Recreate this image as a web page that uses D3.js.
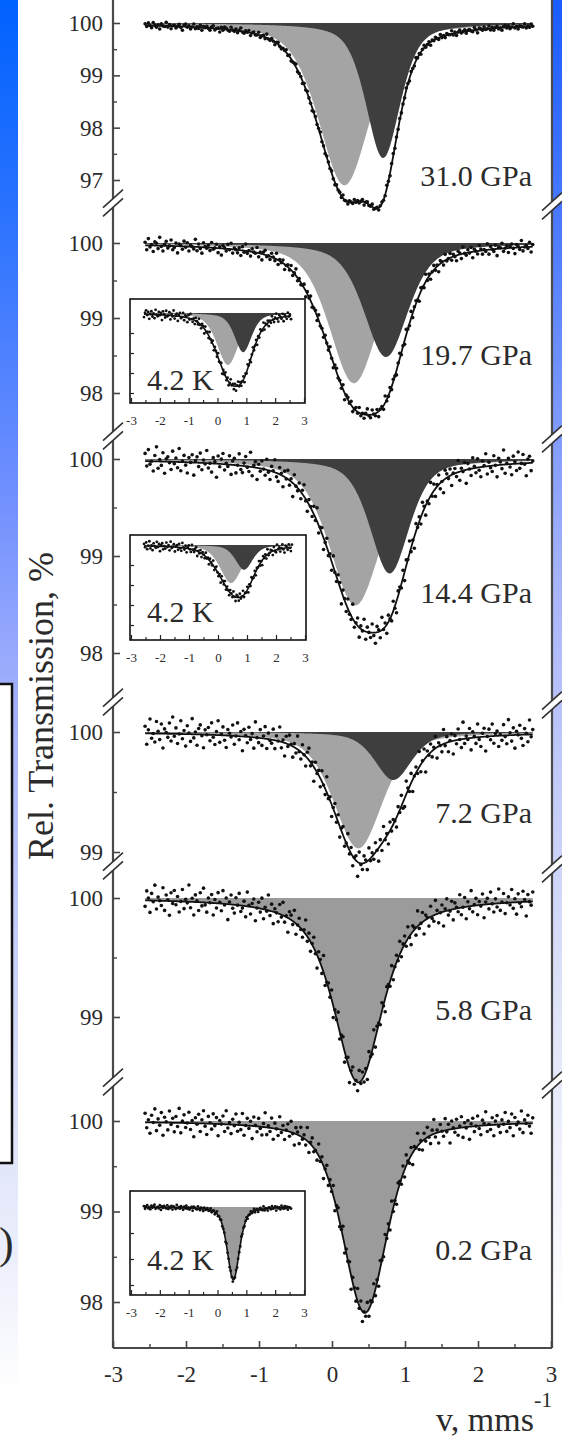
<!DOCTYPE html>
<html><head><meta charset="utf-8">
<script src="https://cdn.jsdelivr.net/npm/d3@7/dist/d3.min.js"></script>
<style>
html,body{margin:0;padding:0;background:#fff;}
svg{display:block;}
text{font-family:"Liberation Serif","Times New Roman",serif;fill:#2b2b2b;}
</style></head><body>
<svg id="chart" width="562" height="1440"></svg>
<script>
// ================= DATA =================
const velocityTicks = [-3,-2,-1,0,1,2,3];
const velocityMinor = [-2.5,-1.5,-0.5,0.5,1.5,2.5];
const velocityRange = [-2.56, 2.75];
const insetVelocityRange = [-2.55, 2.55];
const pressureLabels = ["31.0 GPa","19.7 GPa","14.4 GPa","7.2 GPa","5.8 GPa","0.2 GPa"];
const insetLabel = "4.2 K";

const yTicks310 = [100,99,98,97];
const yTicks197 = [100,99,98];
const yTicks144 = [100,99,98];
const yTicks72  = [100,99];
const yTicks58  = [100,99];
const yTicks02  = [100,99,98];

// line components: [centre (mm/s), depth (%), HWHM (mm/s), Lorentzian fraction]
const fit310 = [[0.17,3.10,0.44,0.5],[0.70,2.20,0.26,0.5]];
const sub310 = [[0.17,3.10,0.42,0.5],[0.70,2.58,0.28,0.5]];
const fit197 = [[0.25,1.75,0.46,0.5],[0.75,1.30,0.36,0.5]];
const sub197 = [[0.30,1.87,0.40,0.5],[0.74,1.52,0.36,0.5]];
const fit144 = [[0.30,1.35,0.45,0.5],[0.80,1.05,0.36,0.5]];
const sub144 = [[0.32,1.51,0.42,0.5],[0.79,1.18,0.32,0.5]];
const fit72  = [[0.36,1.00,0.42,0.5],[0.85,0.35,0.32,0.5]];
const sub72  = [[0.36,0.97,0.40,0.5],[0.84,0.40,0.30,0.5]];
const fit58  = [[0.36,1.55,0.40,0.7]];
const sub58  = [[0.36,1.55,0.40,0.7]];
const fit02  = [[0.45,2.12,0.36,0.5]];
const sub02  = [[0.45,2.12,0.36,0.5]];

// insets (4.2 K)
const fitA = [[0.36,1.30,0.55,0.5],[0.90,1.00,0.45,0.5]];
const subA = [[0.36,1.30,0.45,0.5],[0.89,0.98,0.35,0.5]];
const fitB = [[0.45,0.95,0.60,0.5],[0.95,0.62,0.45,0.5]];
const subB = [[0.45,0.95,0.45,0.5],[0.90,0.62,0.35,0.5]];
const fitC = [[0.55,1.40,0.25,0.5]];
const subC = [[0.55,1.40,0.25,0.5]];
const insetYTicksA = [99.5,99,98.5,98];
const insetYTicksB = [99.5,99,98.5,98];
const insetYTicksC = [99.5,99,98.5];

// measured points: deviation from fit, in 0.01 %
const res310 = [3,-2,5,0,-4,6,1,-3,2,-6,4,0,-1,7,-2,3,-5,1,2,-3,
0,4,-2,-7,3,5,-1,2,-4,0,6,-3,1,-2,4,-5,2,0,3,-1,
-4,2,5,-3,0,1,-6,3,-2,4,2,-1,-3,5,0,-2,3,-4,1,6,
-1,-3,2,0,4,-5,1,3,-2,-1,5,-4,0,2,-3,7,-1,-2,3,0,
-5,2,4,-1,-3,1,0,5,-2,3,-4,-1,2,6,-3,0,1,-5,3,-2,
4,0,-1,-6,2,3,-2,1,5,-3,0,-4,2,1,-1,4,-2,-5,3,0,
2,-3,6,-1,0,-4,3,1,-2,5,-1,2,-3,0,4,-6,1,3,-2,-1,
5,-3,0,2,-4,1,3,-1,-2,6,0,-5,2,4,-3,1,-1,3,-2,0,
-2,4,1,-5,3,0,-3,6,-1,2,-4,1,5,-2,0,3,-6,2,-1,4,
0,-3,5,-2,1,-4,3,0,-1,6,-3,2,-5,1,4,-2,0,3,-4,1,
2,-1,-3,5,0,-6,3,1,-2,4,-1,0,5,-3,2,-4,1,3,-2,0,
-5,2,4,-1,3,-3,0,6,-2,1,-4,2,0,-1,5,-3,1,-2,4,0];
const res197 = [4,-6,9,-2,1,-8,5,3,-4,11,-1,-7,2,6,-3,0,8,-5,-2,4,
-9,3,1,-4,7,-1,5,-6,2,0,-3,10,-5,4,-2,-8,6,1,-1,3,
-4,7,-2,0,5,-6,2,-9,4,1,-3,6,-1,8,-5,2,0,-4,3,-7,
5,-2,9,-3,1,-6,4,0,-1,7,-5,2,-8,3,6,-2,0,-4,5,1,
-3,8,-6,2,-1,4,-7,0,3,-2,6,-5,1,9,-4,2,-3,0,5,-8,
3,-1,6,-4,0,2,-6,7,-2,1,-5,4,0,-3,8,-1,-7,3,5,-2,
1,-4,6,-9,2,3,-1,5,-6,0,4,-2,7,-3,1,-5,2,8,-1,-4,
6,0,-3,4,-7,1,2,-5,9,-2,-1,5,-4,3,0,-6,2,7,-3,1,
-5,7,0,-3,9,-6,2,4,-1,-8,5,1,-4,10,-2,3,-7,0,6,-3,
2,-9,4,1,-5,8,-2,0,6,-4,3,-1,-7,5,2,-6,9,0,-3,4,
-1,6,-8,3,0,-4,7,2,-5,1,-2,8,-6,4,0,-3,5,-9,2,1,
7,-4,0,3,-6,2,5,-1,-8,4,1,-3,9,-5,0,2,-2,6,-7,3];
const res144 = [8,-5,12,-3,0,-10,6,15,-7,2,-4,9,-12,3,5,-1,-8,11,-2,4,
-6,14,-9,1,7,-3,-11,5,0,8,-13,2,6,-4,10,-7,3,-1,13,-5,
0,-9,6,2,-14,8,-3,5,11,-6,1,-2,9,-10,4,7,-8,0,12,-4,
-7,3,10,-1,-5,15,-9,2,6,-12,4,-3,8,0,-6,11,-2,-9,5,1,
13,-4,-8,7,2,-11,6,-1,9,-5,3,-14,10,0,-3,7,-7,4,12,-2,
-10,5,1,-6,8,-3,14,-8,2,6,-12,0,9,-4,3,-9,11,-1,-5,7,
4,-13,6,2,-7,10,-2,-4,15,-6,1,8,-10,3,-1,12,-8,5,0,-5,
9,-3,-11,6,2,-7,13,-1,4,-9,7,0,-6,10,-2,-12,5,3,-4,8,
-9,6,0,13,-4,2,-12,8,-1,5,-7,11,3,-10,1,-5,14,-3,7,-8,
2,10,-6,0,-13,9,4,-2,7,-11,1,5,-4,12,-9,3,-1,8,-14,6,
0,-7,11,2,-5,9,-3,-10,6,1,13,-8,4,-2,-6,10,0,-12,7,3,
-4,15,-9,1,6,-3,-11,8,2,-7,12,-5,0,9,-1,-13,4,7,-8,2];
const res72 = [6,-9,3,12,-4,0,-7,10,2,-5,8,-12,4,1,-3,9,-6,14,-2,5,
-8,0,11,-4,3,-10,7,1,-6,13,-3,2,-9,5,8,-1,-11,4,0,6,
-5,10,-2,-8,3,12,-6,1,7,-4,-10,5,2,-1,9,-7,0,11,-3,4,
-12,6,1,-5,8,-2,3,-9,13,0,-4,7,-6,2,10,-8,5,-1,-3,9,
-7,4,0,12,-5,2,-11,6,-2,8,1,-9,3,-4,11,-1,-6,7,0,-8,
5,10,-3,2,-12,6,-1,4,-7,9,0,-5,13,-2,3,-10,1,8,-4,6,
-9,2,7,-6,0,11,-3,5,-8,1,4,-12,9,-1,-5,6,2,-7,10,-2,
3,-4,8,0,-11,5,-6,12,-1,2,-9,7,-3,4,0,-8,6,-2,9,-5,
-7,11,2,-4,8,-10,0,5,-3,13,-6,1,9,-12,4,-1,7,-5,2,10,
-9,3,0,-6,12,-2,5,-8,1,6,-11,4,-3,9,0,-7,14,-4,2,-1,
8,-10,5,1,-5,11,-2,-8,3,7,-12,0,6,-3,10,-6,2,4,-9,1,
-4,9,-1,-7,13,2,-5,6,-11,3,0,8,-3,-9,5,1,-6,12,-2,4];
const res58 = [-5,8,2,-10,6,-1,13,-7,3,0,-4,11,-8,5,1,-12,7,-2,9,-3,
4,-9,0,10,-6,2,-1,14,-5,3,-11,6,1,-7,8,-3,12,-2,-8,4,
0,7,-10,3,-4,9,1,-6,11,-1,5,-13,2,8,-3,-7,6,0,10,-5,
-2,4,-9,12,1,-6,3,7,-11,0,5,-3,9,-8,2,-1,13,-4,6,-10,
3,0,-7,8,-2,11,-5,1,-12,6,4,-3,10,-9,0,7,-1,-6,2,12,
-4,5,-8,1,9,-2,-11,6,3,-5,14,-7,0,4,-3,8,-10,2,-1,11,
-6,3,7,-9,0,5,-12,2,8,-4,1,-7,10,-2,6,-5,3,-10,9,0,
-3,12,-8,4,1,-6,7,-1,-11,5,2,-4,9,-7,0,6,-2,11,-5,3,
7,-4,10,-1,-9,5,2,-6,13,-3,0,8,-11,4,1,-7,9,-2,-5,12,
3,-8,0,6,-12,2,10,-4,-1,7,-9,5,1,-3,11,-6,0,8,-10,4,
-2,13,-5,1,6,-8,3,-1,9,-11,2,5,-4,10,0,-7,4,-3,12,-6,
1,8,-9,0,5,-2,11,-5,3,-10,7,-1,-4,9,2,-12,6,0,-3,8];
const res02 = [10,-6,3,-12,8,0,15,-9,4,-3,11,-14,6,1,-8,13,-2,5,-10,7,
-4,16,-11,2,9,-5,0,12,-7,3,-15,6,-1,10,-9,4,14,-3,-12,8,
1,-6,11,-2,7,-13,4,0,9,-8,15,-4,2,-10,6,-1,12,-7,3,-5,
13,-11,0,8,-3,5,-14,10,1,-6,9,-2,-9,4,16,-8,2,-4,11,-12,
6,0,-7,14,-3,5,-10,1,8,-5,12,-1,-13,7,3,-9,10,-2,4,-6,
15,-11,2,9,-4,0,-8,13,-3,6,-14,1,10,-7,5,-2,11,-10,3,8,
-5,0,12,-9,4,-1,7,-15,6,2,-6,14,-3,9,-11,1,-4,10,-8,5,
-1,13,-7,3,-12,8,0,-5,11,-2,6,-9,15,-4,1,-10,7,3,-6,9,
-8,12,1,-5,9,-13,4,0,14,-6,2,-10,7,-3,11,-1,-9,5,16,-4,
3,-12,8,0,-6,13,-2,6,-15,9,1,-4,10,-8,2,12,-11,5,-1,7,
-14,3,9,-6,0,11,-3,-10,6,2,15,-7,1,-5,8,-12,4,10,-2,-9,
5,0,13,-8,3,-4,11,-13,7,-1,2,-6,14,-10,4,0,9,-3,-11,6];
const resA = [-7,4,10,-2,6,-11,1,8,-5,3,-9,12,0,-4,7,-1,5,-13,9,2,
-6,11,-3,0,8,-10,4,-2,13,-7,1,6,-12,3,9,-4,-1,10,-8,5,
2,-11,7,-3,12,0,-6,4,-9,8,1,-5,11,-2,-8,6,3,-12,9,-1,
4,-7,13,0,-3,8,-10,5,2,-6,10,-4,1,7,-13,3,-2,9,-5,6,
-9,0,12,-1,4,-8,6,-11,2,10,-3,5,-7,1,8,-12,3,-4,11,0,
5,-9,2,11,-4,0,7,-12,3,-6,9,1,-3,13,-8,4,-1,6,-10,2,
-5,10,0,-7,3,12,-2,-9,6,1,-4,8,-11,5,0,-6,9,-1,3,-8];
const resB = [5,-3,9,-8,1,12,-6,2,-10,7,0,-4,11,-2,6,-12,3,8,-7,1,
-5,10,-1,4,-9,13,-3,0,7,-11,2,5,-6,9,-2,-8,12,1,-4,6,
-10,3,8,-1,-7,11,0,-5,4,9,-12,2,-3,7,-9,5,1,-6,10,-2,
3,-11,6,0,-4,12,-8,2,9,-1,-6,4,-13,8,1,-3,10,-7,5,0,
-9,7,2,-5,11,-1,-10,6,3,-8,9,-4,0,12,-6,1,-2,8,-11,4,
-6,10,1,-3,8,-9,4,0,11,-5,2,-12,7,-1,5,-8,13,-4,0,6,
3,-10,9,-2,-6,12,0,4,-7,1,10,-3,-11,6,2,-5,8,-1,-9,7];
const resC = [2,-3,1,4,-2,0,-4,3,-1,2,5,-3,0,1,-2,4,-5,2,-1,3,
0,-2,4,-3,1,-1,3,-4,2,0,-3,5,-1,1,-2,3,0,-4,2,-1,
4,-2,1,-3,0,2,-5,3,1,-1,-2,4,0,-3,2,1,-4,3,-1,0,
3,-2,-1,4,-3,1,2,-4,0,5,-2,1,-1,3,-3,0,2,-5,4,-1,
1,-2,3,0,-4,2,-1,4,-3,1,0,-2,5,-1,2,-3,1,3,-4,0,
-1,3,-2,0,4,-3,1,2,-4,0,3,-1,-2,5,-3,1,0,-4,2,1,
-2,4,-1,0,3,-5,2,-1,1,-3,4,0,-2,3,-1,2,-4,1,0,-2];

// ================= LAYOUT =================
const plotLeft = 113, plotRight = 552, plotBottom = 1348;
const panels = [
  {label: pressureLabels[0], ticks: yTicks310, fit: fit310, sub: sub310, res: res310, top: 23,   bottom: 180,  labelY: 186},
  {label: pressureLabels[1], ticks: yTicks197, fit: fit197, sub: sub197, res: res197, top: 243,  bottom: 393,  labelY: 365},
  {label: pressureLabels[2], ticks: yTicks144, fit: fit144, sub: sub144, res: res144, top: 459,  bottom: 653,  labelY: 603},
  {label: pressureLabels[3], ticks: yTicks72,  fit: fit72,  sub: sub72,  res: res72,  top: 732,  bottom: 852,  labelY: 823},
  {label: pressureLabels[4], ticks: yTicks58,  fit: fit58,  sub: sub58,  res: res58,  top: 898,  bottom: 1017, labelY: 1020},
  {label: pressureLabels[5], ticks: yTicks02,  fit: fit02,  sub: sub02,  res: res02,  top: 1121, bottom: 1302, labelY: 1260}
];
const insets = [
  {fit: fitA, sub: subA, res: resA, yTicks: insetYTicksA, x0:130, y0:299, x1:305, y1:403, base:313, pxPct:40, kY:390},
  {fit: fitB, sub: subB, res: resB, yTicks: insetYTicksB, x0:130, y0:535, x1:306, y1:640, base:545, pxPct:40, kY:622},
  {fit: fitC, sub: subC, res: resC, yTicks: insetYTicksC, x0:130, y0:1191, x1:305, y1:1295, base:1207, pxPct:52, kY:1270}
];
const breaks = [203, 436, 702, 866, 1082];
const LIGHT = "#a4a4a4", DARK = "#3e3e3e", SINGLE = "#9b9b9b", INK = "#111";
const SERIF = "'Liberation Serif','Times New Roman',serif";

// ================= HELPERS =================
function pv(v, p){ const u=(v-p[0])/p[2]; return p[1]*(p[3]/(1+u*u) + (1-p[3])*Math.exp(-Math.LN2*u*u)); }
function absorb(v, comps){ return d3.sum(comps, p => pv(v, p)); }
function grid(range, n){ return d3.range(n+1).map(i => range[0] + (range[1]-range[0])*i/n); }

const svg = d3.select("#chart");
const defs = svg.append("defs");
function grad(id, stops){
  const g = defs.append("linearGradient").attr("id", id).attr("x1",0).attr("y1",0).attr("x2",0).attr("y2",1);
  stops.forEach(s => g.append("stop").attr("offset", s[0]).attr("stop-color", s[1]));
}
grad("slideL", [[0,"#0062ff"],[0.15,"#2a72ff"],[0.35,"#6f8fff"],[0.5,"#a2b0fc"],[0.7,"#ccd4f8"],[0.9,"#eceffb"],[1,"#ffffff"]]);
grad("slideR", [[0,"#1a5cff"],[0.2,"#5580ff"],[0.45,"#aab6fb"],[0.75,"#dde2f8"],[1,"#ffffff"]]);

// slide background remnants
svg.append("rect").attr("x",0).attr("y",0).attr("width",18).attr("height",1395).attr("fill","url(#slideL)");
svg.append("rect").attr("x",553).attr("y",0).attr("width",9).attr("height",1320).attr("fill","url(#slideR)");
svg.append("rect").attr("x",-3).attr("y",684).attr("width",15).attr("height",479)
  .attr("fill","#fff").attr("stroke","#111").attr("stroke-width",2.5);
svg.append("text").attr("x",-1).attr("y",1258).style("font-size","44px").text(")");

const x = d3.scaleLinear().domain([-3,3]).range([113,551]);
const curveV = grid(velocityRange, 500);
const plot = svg.append("g");

panels.forEach(p => {
  const y = d3.scaleLinear().domain([p.ticks[0], p.ticks[p.ticks.length-1]]).range([p.top, p.bottom]);
  const g = plot.append("g");
  const single = p.sub.length === 1;
  p.sub.forEach((c, i) => {
    const area = d3.area().x(v => x(v)).y0(y(100)).y1(v => y(100 - pv(v, c)));
    g.append("path").datum(curveV).attr("d", area)
      .attr("fill", single ? SINGLE : (i === 0 ? LIGHT : DARK));
  });
  const line = d3.line().x(v => x(v)).y(v => y(100 - absorb(v, p.fit)));
  g.append("path").datum(curveV).attr("d", line).attr("fill","none").attr("stroke", INK).attr("stroke-width",1.8);
  const n = p.res.length;
  const pts = p.res.map((r, i) => {
    const v = velocityRange[0] + (velocityRange[1]-velocityRange[0])*i/(n-1);
    return {v, t: 100 - absorb(v, p.fit) + r/100};
  });
  g.selectAll("circle").data(pts).join("circle")
    .attr("cx", d => x(d.v)).attr("cy", d => y(d.t)).attr("r",1.8).attr("fill", INK);
  g.append("text").attr("x",532).attr("y",p.labelY).attr("text-anchor","end")
    .style("font-size","30px").text(p.label);

  const ya = plot.append("g").attr("transform",`translate(${plotLeft},0)`)
    .call(d3.axisLeft(y).tickValues(p.ticks).tickSizeInner(-7).tickSizeOuter(0).tickPadding(10).tickFormat(d => String(d)));
  ya.select(".domain").remove();
  ya.selectAll("text").style("font-size","23px").style("font-family",SERIF).attr("fill","#2b2b2b");
  ya.selectAll("line").attr("stroke","#444").attr("stroke-width",1.6);
  const minors = d3.pairs(p.ticks).map(([a,b]) => (a+b)/2);
  const ym = plot.append("g").attr("transform",`translate(${plotLeft},0)`)
    .call(d3.axisLeft(y).tickValues(minors).tickSizeInner(-4).tickSizeOuter(0).tickFormat(""));
  ym.select(".domain").remove();
  ym.selectAll("line").attr("stroke","#444").attr("stroke-width",1.4);
});

// frame
const frame = svg.append("g").attr("stroke","#4a4a4a").attr("stroke-width",2.2).attr("fill","none");
frame.append("line").attr("x1",plotLeft).attr("y1",0).attr("x2",plotLeft).attr("y2",plotBottom);
frame.append("line").attr("x1",plotRight).attr("y1",0).attr("x2",plotRight).attr("y2",plotBottom);
frame.append("line").attr("x1",plotLeft).attr("y1",plotBottom).attr("x2",plotRight).attr("y2",plotBottom);

// bottom axis
const xa = svg.append("g").attr("transform",`translate(0,${plotBottom})`)
  .call(d3.axisBottom(x).tickValues(velocityTicks).tickSizeInner(-7).tickSizeOuter(0).tickPadding(18).tickFormat(d => String(d)));
xa.select(".domain").remove();
xa.selectAll("text").style("font-size","23px").style("font-family",SERIF).attr("fill","#2b2b2b");
xa.selectAll("line").attr("stroke","#444").attr("stroke-width",1.6);
const xm = svg.append("g").attr("transform",`translate(0,${plotBottom})`)
  .call(d3.axisBottom(x).tickValues(velocityMinor).tickSizeInner(-4).tickSizeOuter(0).tickFormat(""));
xm.select(".domain").remove();
xm.selectAll("line").attr("stroke","#444").attr("stroke-width",1.4);

// axis breaks
function breakMark(cx, cy){
  const g = svg.append("g");
  g.append("polygon").attr("points", [[cx-10,cy+13],[cx+10,cy-5],[cx+10,cy-13],[cx-10,cy+5]].map(q=>q.join(",")).join(" "))
    .attr("fill","#fff");
  [-4.3, 4.3].forEach(d => g.append("line")
    .attr("x1",cx-10).attr("y1",cy+d+9).attr("x2",cx+10).attr("y2",cy+d-9)
    .attr("stroke","#333").attr("stroke-width",1.6));
}
breaks.forEach(b => { breakMark(plotLeft, b); breakMark(plotRight, b + 3); });

// insets
insets.forEach(s => {
  const ix = d3.scaleLinear().domain([-3,3]).range([s.x0+1, s.x1-1]);
  const iy = d3.scaleLinear().domain([100,99]).range([s.base, s.base + s.pxPct]);
  const g = svg.append("g");
  g.append("rect").attr("x",s.x0).attr("y",s.y0).attr("width",s.x1-s.x0).attr("height",s.y1-s.y0).attr("fill","#fff");
  const iv = grid(insetVelocityRange, 300);
  const single = s.sub.length === 1;
  s.sub.forEach((c,i) => {
    const area = d3.area().x(v => ix(v)).y0(iy(100)).y1(v => iy(100 - pv(v, c)));
    g.append("path").datum(iv).attr("d", area).attr("fill", single ? SINGLE : (i === 0 ? LIGHT : DARK));
  });
  const line = d3.line().x(v => ix(v)).y(v => iy(100 - absorb(v, s.fit)));
  g.append("path").datum(iv).attr("d", line).attr("fill","none").attr("stroke",INK).attr("stroke-width",1.6);
  const n = s.res.length;
  const pts = s.res.map((r,i) => {
    const v = insetVelocityRange[0] + (insetVelocityRange[1]-insetVelocityRange[0])*i/(n-1);
    return {v, t: 100 - absorb(v, s.fit) + r/100};
  });
  g.selectAll("circle").data(pts).join("circle")
    .attr("cx", d => ix(d.v)).attr("cy", d => iy(d.t)).attr("r",1.4).attr("fill",INK);
  g.append("text").attr("x",147).attr("y",s.kY).style("font-size","30px").text(insetLabel);
  g.append("rect").attr("x",s.x0).attr("y",s.y0).attr("width",s.x1-s.x0).attr("height",s.y1-s.y0)
    .attr("fill","none").attr("stroke","#111").attr("stroke-width",1.6);
  const ba = g.append("g").attr("transform",`translate(0,${s.y1})`)
    .call(d3.axisBottom(ix).tickValues(velocityTicks).tickSizeInner(-5).tickSizeOuter(0).tickPadding(13).tickFormat(d => String(d)));
  ba.select(".domain").remove();
  ba.selectAll("text").style("font-size","13px").style("font-family",SERIF).attr("fill","#2b2b2b");
  ba.selectAll("line").attr("stroke","#222").attr("stroke-width",1.2);
  const bm = g.append("g").attr("transform",`translate(0,${s.y1})`)
    .call(d3.axisBottom(ix).tickValues(velocityMinor).tickSizeInner(-3).tickSizeOuter(0).tickFormat(""));
  bm.select(".domain").remove();
  bm.selectAll("line").attr("stroke","#222").attr("stroke-width",1.2);
  const la = g.append("g").attr("transform",`translate(${s.x0},0)`)
    .call(d3.axisLeft(iy).tickValues(s.yTicks).tickSizeInner(-4).tickSizeOuter(0).tickFormat(""));
  la.select(".domain").remove();
  la.selectAll("line").attr("stroke","#222").attr("stroke-width",1.2);
});

// axis titles
svg.append("text").attr("transform","translate(53,706) rotate(-90)").attr("text-anchor","middle")
  .style("font-size","36px").text("Rel. Transmission, %");
svg.append("text").attr("x",534).attr("y",1431).attr("text-anchor","end").style("font-size","34px").text("v, mms");
svg.append("text").attr("x",534).attr("y",1407).style("font-size","22px").text("-1");
</script>
</body></html>
